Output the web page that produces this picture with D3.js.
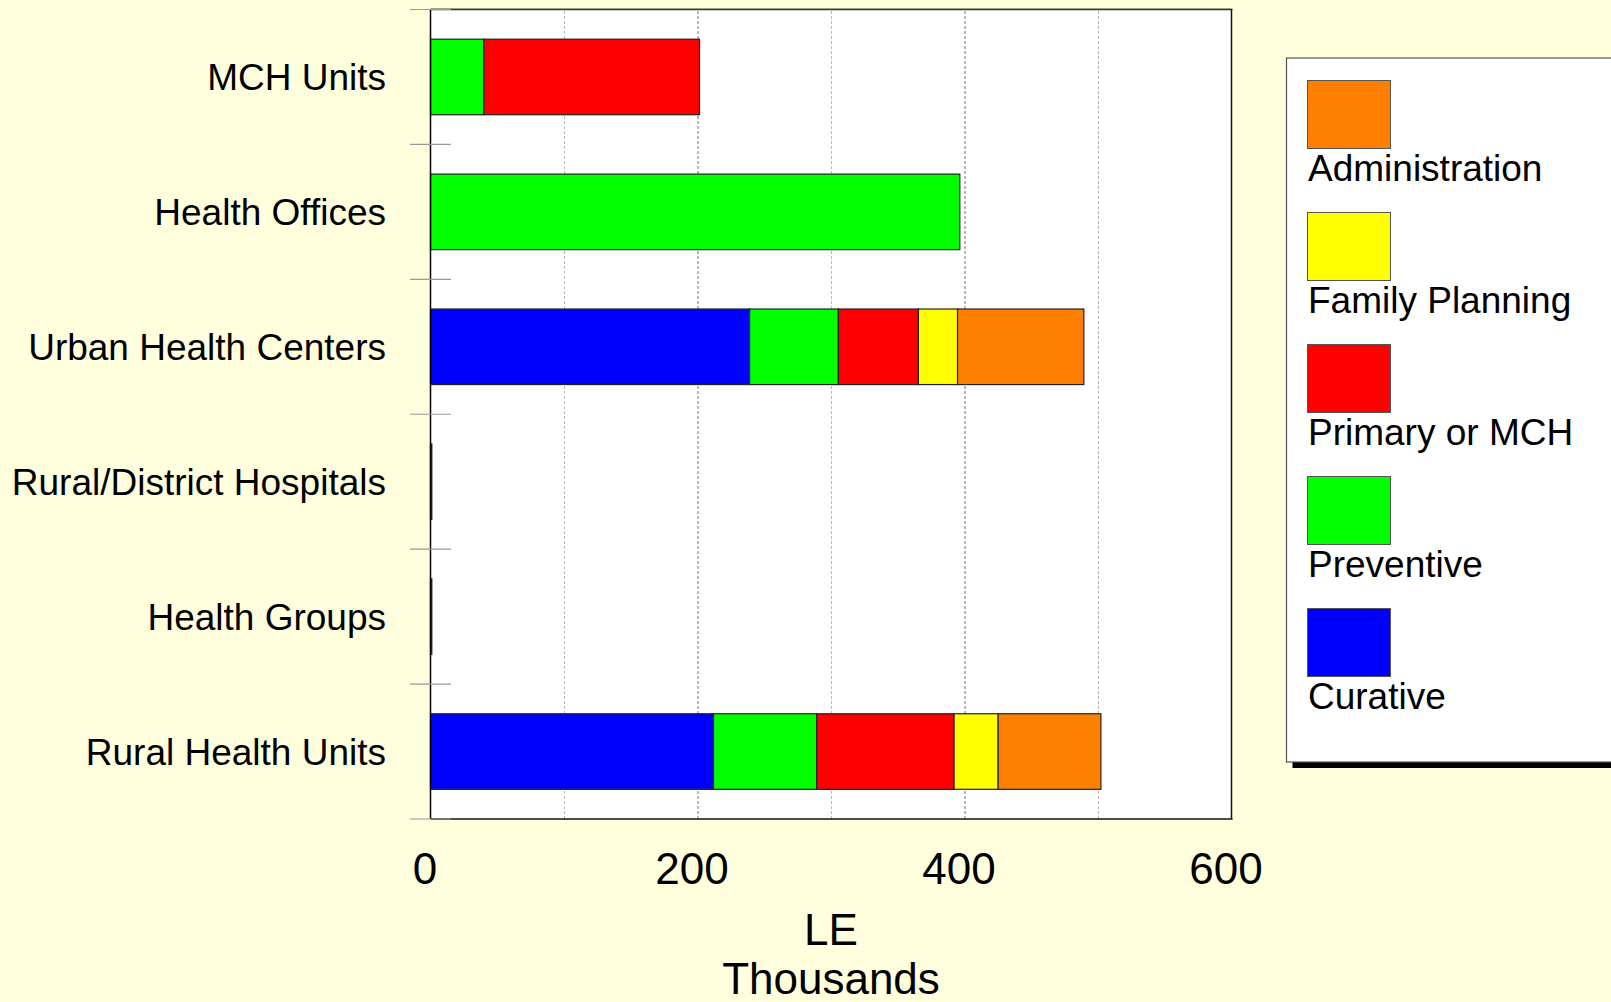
<!DOCTYPE html>
<html>
<head>
<meta charset="utf-8">
<script src="https://cdn.jsdelivr.net/npm/d3@7"></script>
<style>
  html, body { margin: 0; padding: 0; background: #FFFFDD; }
  svg { display: block; font-family: "Liberation Sans", Arial, sans-serif; }
</style>
</head>
<body>
<svg id="chart" width="1611" height="1002"></svg>
<script>
// ---- data ----
const categories = ["MCH Units", "Health Offices", "Urban Health Centers", "Rural/District Hospitals", "Health Groups", "Rural Health Units"];
const seriesNames = ["Curative", "Preventive", "Primary or MCH", "Family Planning", "Administration"];
const curative      = [0,     0,     239,  1, 1, 212];
const preventive    = [40,    396.5, 66.5, 0, 0, 77.3];
const primaryMCH    = [161.5, 0,     60,   0, 0, 102.9];
const familyPlan    = [0,     0,     29.3, 0, 0, 33];
const administration= [0,     0,     94.6, 0, 0, 77];
const xTicks = [0, 200, 400, 600];
const gridTicks = [100, 200, 300, 400, 500];
const legendOrder = ["Administration", "Family Planning", "Primary or MCH", "Preventive", "Curative"];
const colors = {
  "Curative": "#0000FF",
  "Preventive": "#00FF00",
  "Primary or MCH": "#FF0000",
  "Family Planning": "#FFFF00",
  "Administration": "#FF8000"
};

(function () {
const seriesValues = [curative, preventive, primaryMCH, familyPlan, administration];
const table = categories.map((c, i) => {
  const row = { category: c };
  seriesNames.forEach((s, k) => row[s] = seriesValues[k][i]);
  return row;
});

const svg = d3.select("#chart");
const pL = 430.5, pR = 1231.5, pT = 9.5, pB = 819;

const x = d3.scaleLinear().domain([0, 600]).range([pL, pR]);
const y = d3.scaleBand().domain(categories).range([pT, pB]).paddingInner(0.44).paddingOuter(0.22);

// plot background
svg.append("rect").attr("x", pL).attr("y", pT).attr("width", pR - pL).attr("height", pB - pT)
  .attr("fill", "#FFFFFF");

// gridlines
const grid = svg.append("g").attr("transform", `translate(0,${pB})`)
  .call(d3.axisBottom(x).tickValues(gridTicks).tickSize(-(pB - pT)).tickFormat(""));
grid.select(".domain").remove();
grid.selectAll(".tick line")
  .attr("stroke", d => (d % 200 === 0) ? "#707070" : "#b8b8b8")
  .attr("stroke-dasharray", "3,2")
  .attr("stroke-width", 1);

// stacked bars
const stack = d3.stack().keys(seriesNames);
const stacked = stack(table);
svg.append("g").selectAll("g").data(stacked).join("g")
  .attr("fill", d => colors[d.key])
  .selectAll("rect").data(d => d.filter(p => p[1] - p[0] > 0)).join("rect")
  .attr("x", d => x(d[0]))
  .attr("y", d => y(d.data.category))
  .attr("width", d => x(d[1]) - x(d[0]))
  .attr("height", y.bandwidth())
  .attr("stroke", "#222")
  .attr("stroke-width", 1.2);

// frame
svg.append("line").attr("x1", pL).attr("x2", pR).attr("y1", pT - 1).attr("y2", pT - 1).attr("stroke", "#c8c8a0").attr("stroke-width", 1);
svg.append("line").attr("x1", pL).attr("x2", pR + 1).attr("y1", pT).attr("y2", pT).attr("stroke", "#333").attr("stroke-width", 1.5);
svg.append("line").attr("x1", pR).attr("x2", pR).attr("y1", pT).attr("y2", pB).attr("stroke", "#111").attr("stroke-width", 1.5);
svg.append("line").attr("x1", pL).attr("x2", pR + 1).attr("y1", pB).attr("y2", pB).attr("stroke", "#111").attr("stroke-width", 1.5);
svg.append("line").attr("x1", pL).attr("x2", pL).attr("y1", pT).attr("y2", pB).attr("stroke", "#000").attr("stroke-width", 1.5);

// category tick marks at band boundaries
const boundaries = d3.range(categories.length + 1).map(i => pT + i * y.step());
svg.append("g").selectAll("line").data(boundaries).join("line")
  .attr("x1", 410).attr("x2", 451)
  .attr("y1", d => d).attr("y2", d => d)
  .attr("stroke", "#999").attr("stroke-width", 1.2);

// category labels
svg.append("g").selectAll("text").data(categories).join("text")
  .attr("x", 386)
  .attr("y", d => y(d) + y.bandwidth() / 2 + 13)
  .attr("text-anchor", "end")
  .attr("font-size", 37)
  .attr("fill", "#000")
  .text(d => d);

// x tick labels
const xAxis = svg.append("g").attr("transform", `translate(0,${pB})`)
  .call(d3.axisBottom(x).tickValues(xTicks).tickSize(0).tickPadding(0));
xAxis.select(".domain").remove();
xAxis.selectAll(".tick text")
  .attr("font-family", "'Liberation Sans', Arial, sans-serif")
  .attr("font-size", 44)
  .attr("fill", "#000")
  .attr("dy", null)
  .attr("y", 65)
  .attr("x", -6);

// axis title
svg.append("text").attr("x", (pL + pR) / 2).attr("y", 945).attr("text-anchor", "middle")
  .attr("font-size", 44).text("LE");
svg.append("text").attr("x", (pL + pR) / 2).attr("y", 994).attr("text-anchor", "middle")
  .attr("font-size", 44).text("Thousands");

// legend
const lg = svg.append("g");
lg.append("rect").attr("x", 1292.5).attr("y", 64).attr("width", 340).attr("height", 704).attr("fill", "#000");
lg.append("rect").attr("x", 1286.5).attr("y", 58).attr("width", 340).attr("height", 704)
  .attr("fill", "#fff").attr("stroke", "#555").attr("stroke-width", 1.2);
const items = lg.selectAll("g.item").data(legendOrder).join("g").attr("class", "item")
  .attr("transform", (d, i) => `translate(1307.5,${80.5 + i * 132})`);
items.append("rect").attr("width", 83).attr("height", 68)
  .attr("fill", d => colors[d]).attr("stroke", "#555").attr("stroke-width", 1);
items.append("text").attr("x", 0.5).attr("y", 100).attr("font-size", 37).attr("fill", "#000").text(d => d);
})();
</script>
</body>
</html>
